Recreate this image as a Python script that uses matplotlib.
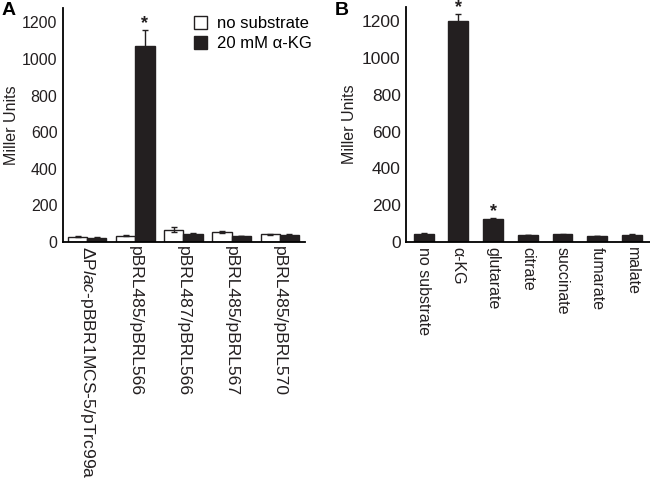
import matplotlib.pyplot as plt
import numpy as np

plt.rcParams['font.family'] = ['Liberation Sans', 'DejaVu Sans']
plt.rcParams['mathtext.fontset'] = 'custom'
plt.rcParams['mathtext.rm'] = 'Liberation Sans'
plt.rcParams['mathtext.it'] = 'Liberation Sans:italic'

# Panel A data
strains = [r'ΔP$\it{lac}$-pBBR1MCS-5/pTrc99a', 'pBRL485/pBRL566',
           'pBRL487/pBRL566', 'pBRL485/pBRL567', 'pBRL485/pBRL570']
no_sub = [30, 35, 68, 55, 42]
no_sub_err = [4, 3, 16, 6, 3]
akg = [24, 1072, 44, 33, 38]
akg_err = [2, 85, 3, 2, 3]

# Panel B data
substrates = ['no substrate', 'α-KG', 'glutarate', 'citrate',
              'succinate', 'fumarate', 'malate']
miller_b = [45, 1200, 125, 38, 42, 32, 40]
miller_b_err = [3, 38, 4, 2, 2, 2, 2]
stars_b = [1, 2]

dark = '#231f20'


def star(ax, xpos, top):
    ax.text(xpos, top + 36, '*', ha='center', va='center', fontsize=13,
            fontweight='bold', color=dark, clip_on=False)


fig = plt.figure(figsize=(6.5, 4.84), dpi=100)
axA = fig.add_axes([0.097, 0.5, 0.372, 0.484])
axB = fig.add_axes([0.625, 0.5, 0.375, 0.486])

x = np.arange(len(strains))
w = 0.4
axA.bar(x - w / 2, no_sub, w, color='white', edgecolor=dark, linewidth=1,
        yerr=no_sub_err, error_kw=dict(ecolor=dark, capsize=2.5, elinewidth=1),
        label='no substrate')
axA.bar(x + w / 2, akg, w, color=dark, edgecolor=dark, linewidth=1,
        yerr=akg_err, error_kw=dict(ecolor=dark, capsize=2.5, elinewidth=1),
        label='20 mM α-KG')
star(axA, 1 + w / 2, akg[1] + akg_err[1])
axA.set_xlim(-0.5, 4.52)
axA.set_xticks(x)
axA.set_xticklabels(strains, rotation=270, va='top', ha='center', fontsize=12.6)
axA.tick_params(axis='x', pad=3)
axA.tick_params(axis='y', labelsize=11.5)
axA.legend(loc='upper right', frameon=False, fontsize=12, handlelength=0.8,
           handleheight=0.8, handletextpad=0.6, borderaxespad=0.1,
           labelspacing=0.3, bbox_to_anchor=(1.065, 1.0))

xb = np.arange(len(substrates))
axB.bar(xb, miller_b, 0.57, color=dark, edgecolor=dark, linewidth=1,
        yerr=miller_b_err, error_kw=dict(ecolor=dark, capsize=2.5, elinewidth=1))
for i in stars_b:
    star(axB, xb[i], miller_b[i] + miller_b_err[i])
axB.set_xlim(-0.5, 6.52)
axB.set_xticks(xb)
axB.set_xticklabels(substrates, rotation=270, va='top', ha='center', fontsize=11.5)
axB.tick_params(axis='y', labelsize=12.5)

for ax in (axA, axB):
    ax.set_ylim(0, 1280)
    ax.set_yticks([0, 200, 400, 600, 800, 1000, 1200])
    ax.spines['top'].set_visible(False)
    ax.spines['right'].set_visible(False)
    ax.spines['left'].set_linewidth(1.3)
    ax.spines['bottom'].set_linewidth(1.3)
    ax.tick_params(length=0, colors=dark)
    ax.tick_params(axis='y', pad=4)
axA.set_ylabel('Miller Units', fontsize=11.5, color=dark, labelpad=2)
axB.set_ylabel('Miller Units', fontsize=11.5, color=dark, labelpad=4)

fig.text(0.002, 0.995, 'A', fontsize=14, fontweight='bold', va='top', ha='left')
fig.text(0.515, 0.995, 'B', fontsize=14, fontweight='bold', va='top', ha='left')

fig.savefig('out.png', dpi=100)
